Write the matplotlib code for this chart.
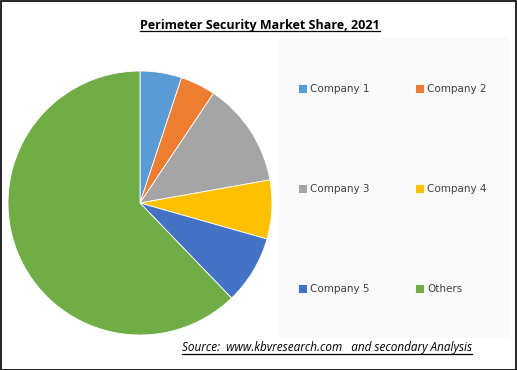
import matplotlib
matplotlib.use("Agg")
import matplotlib.pyplot as plt
from matplotlib.patches import Rectangle
from matplotlib.lines import Line2D

title = "Perimeter Security Market Share, 2021"
source = "Source:  www.kbvresearch.com   and secondary Analysis"
companies = ["Company 1", "Company 2", "Company 3", "Company 4", "Company 5", "Others"]
shares = [5.1, 4.3, 12.8, 7.2, 8.4, 62.2]
colors = ["#5B9BD5", "#ED7D31", "#A5A5A5", "#FFC000", "#4472C4", "#70AD47"]

W, H = 517, 370
fig = plt.figure(figsize=(W / 100, H / 100), dpi=100)
fig.patch.set_facecolor("white")

# plot-area background (legend area)
fig.patches.append(Rectangle((278 / W, 1 - 338 / H), (509 - 278) / W, (338 - 37) / H,
                             transform=fig.transFigure, facecolor="#FAFAFA",
                             edgecolor="none", zorder=0))

cx, cy, r = 140, 203, 132
ax = fig.add_axes([(cx - r) / W, 1 - (cy + r) / H, 2 * r / W, 2 * r / H])
wedges, _ = ax.pie(shares, colors=colors, startangle=90, counterclock=False,
                   radius=1.0, wedgeprops=dict(linewidth=0.6, edgecolor="white"))
ax.set_xlim(-1, 1)
ax.set_ylim(-1, 1)
ax.set_aspect("equal")
ax.axis("off")

# row-wise legend order (matplotlib fills columns first)
order = [0, 2, 4, 1, 3, 5]
leg = fig.legend([wedges[i] for i in order], [companies[i] for i in order],
                 ncol=2, loc="upper left",
                 bbox_to_anchor=(298 / W, 1 - 84 / H), frameon=False,
                 fontsize=7.5, handlelength=0.85, handleheight=0.85,
                 handletextpad=0.3, columnspacing=4.4, labelspacing=8.65,
                 borderaxespad=0, borderpad=0)
for t in leg.get_texts():
    t.set_color("#404040")

t1 = fig.text(260 / W, 1 - 26 / H, title, ha="center", va="center",
              fontsize=9, fontweight="bold", family="Open Sans", color="black")
t2 = fig.text(182 / W, 1 - 348 / H, source, ha="left", va="center",
              fontsize=8.5, style="italic", family="Open Sans", color="black")

fig.canvas.draw()
rend = fig.canvas.get_renderer()
inv = fig.transFigure.inverted()
for t, off in ((t1, 2), (t2, 1)):
    bb = t.get_window_extent(rend)
    (x0, y0), (x1, y1) = inv.transform([(bb.x0, bb.y0 + off), (bb.x1, bb.y0 + off)])
    fig.add_artist(Line2D([x0, x1], [y0, y1], transform=fig.transFigure,
                          color="black", linewidth=0.9))

# outer border
fig.patches.append(Rectangle((0.5 / W, 0.5 / H), 1 - 1.5 / W, 1 - 1.5 / H,
                             transform=fig.transFigure, facecolor="none",
                             edgecolor="black", linewidth=1.2, zorder=10))

fig.savefig("out.png", dpi=100)
